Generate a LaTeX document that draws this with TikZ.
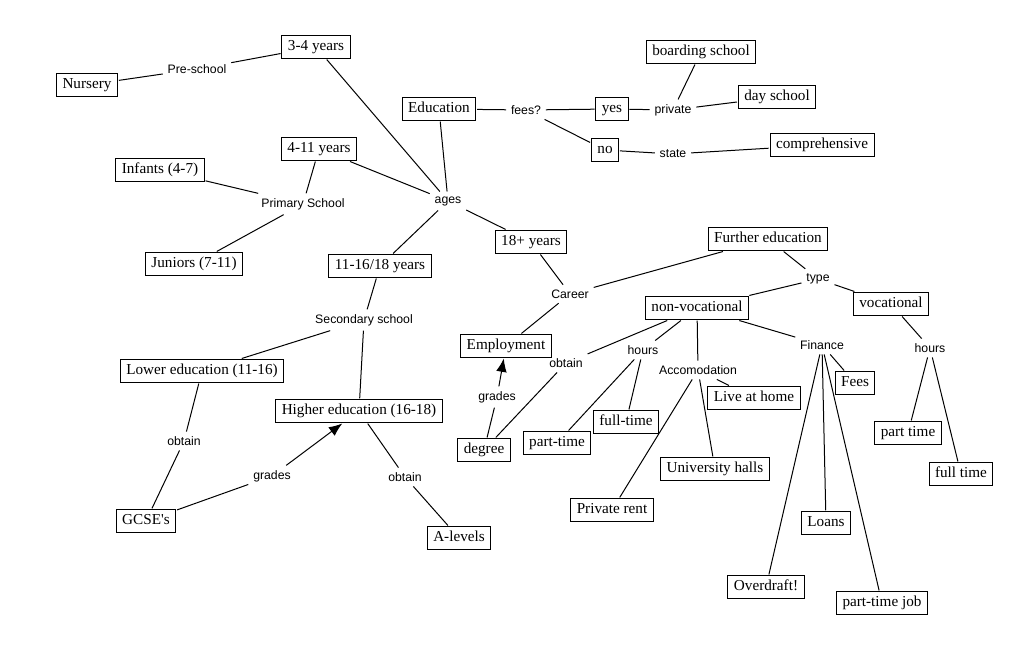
\documentclass[tikz,border=0pt]{standalone}
\usepackage{fontspec}
\setmainfont{Liberation Serif}
\newfontfamily\labfont{Liberation Sans}
\usetikzlibrary{arrows.meta}
\begin{document}
\begin{tikzpicture}[x=0.75pt,y=-0.75pt,
  box/.style={draw,line width=0.75pt,font=\fontsize{11.4}{13}\selectfont,inner xsep=4.5pt,inner ysep=3.2pt,text height=8pt,text depth=2.4pt,outer sep=1pt},
  lab/.style={font=\labfont\fontsize{9.2}{11}\selectfont,inner sep=3.5pt},
  ln/.style={line width=0.75pt},
  arr/.style={line width=0.75pt,-{Latex[length=10pt,width=8pt]}}]
\useasboundingbox[fill=white] (0,0) rectangle (1034,656);
% boxes
\node[box] (y34) at (316,47) {3-4 years};
\node[box] (nurs) at (87,85) {Nursery};
\node[box] (edu) at (439,109) {Education};
\node[box] (yes) at (612,109) {yes};
\node[box] (board) at (701,52) {boarding school};
\node[box] (day) at (777,97) {day school};
\node[box] (no) at (605,150) {no};
\node[box] (comp) at (822,145) {comprehensive};
\node[box] (y411) at (319,149) {4-11 years};
\node[box] (inf) at (160,170) {Infants (4-7)};
\node[box] (jun) at (194,264) {Juniors (7-11)};
\node[box] (y1116) at (380,266) {11-16/18 years};
\node[box] (y18) at (531,242) {18+ years};
\node[box] (fed) at (768,239) {Further education};
\node[box] (nonv) at (697,308) {non-vocational};
\node[box] (voc) at (891,304) {vocational};
\node[box] (emp) at (506,346) {Employment};
\node[box] (fees) at (855,383) {Fees};
\node[box] (home) at (754,398) {Live at home};
\node[box] (lower) at (202,371) {Lower education (11-16)};
\node[box] (higher) at (359,411) {Higher education (16-18)};
\node[box] (fullt) at (626,422) {full-time};
\node[box] (partt) at (557,443) {part-time};
\node[box] (degree) at (484,450) {degree};
\node[box] (ptime) at (908,433) {part time};
\node[box] (halls) at (715,469) {University halls};
\node[box] (ftime) at (961,474) {full time};
\node[box] (rent) at (612,510) {Private rent};
\node[box] (gcse) at (146,521) {GCSE\textquotesingle s};
\node[box] (loans) at (826,523) {Loans};
\node[box] (alev) at (459,538) {A-levels};
\node[box] (over) at (766,587) {Overdraft!};
\node[box] (job) at (882,603) {part-time job};
% labels
\node[lab] (pre) at (197,69) {Pre-school};
\node[lab] (feesq) at (526,110) {fees?};
\node[lab] (priv) at (673,110) {private};
\node[lab] (state) at (673,154) {state};
\node[lab] (prim) at (303,204) {Primary School};
\node[lab] (ages) at (448,201) {ages};
\node[lab] (career) at (570,294) {Career};
\node[lab] (type) at (818,279) {type};
\node[lab] (sec) at (364,320) {Secondary school};
\node[lab] (obt1) at (566,363) {obtain};
\node[lab] (hrs1) at (643,350) {hours};
\node[lab] (acc) at (698,370) {Accomodation};
\node[lab] (fin) at (822,345) {Finance};
\node[lab] (hrs2) at (930,348) {hours};
\node[lab] (gr1) at (497,397) {grades};
\node[lab] (obt2) at (184,441) {obtain};
\node[lab] (gr2) at (272,476) {grades};
\node[lab] (obt3) at (405,477) {obtain};
% connectors
\draw[ln] (nurs) -- (pre) -- (y34);
\draw[ln] (y34) -- (ages);
\draw[ln] (edu) -- (ages);
\draw[ln] (edu) -- (feesq);
\draw[ln] (feesq) -- (yes);
\draw[ln] (feesq) -- (no);
\draw[ln] (yes) -- (priv);
\draw[ln] (priv) -- (board);
\draw[ln] (priv) -- (day);
\draw[ln] (no) -- (state) -- (comp);
\draw[ln] (y411) -- (ages);
\draw[ln] (y411) -- (prim);
\draw[ln] (prim) -- (inf);
\draw[ln] (prim) -- (jun);
\draw[ln] (ages) -- (y1116);
\draw[ln] (ages) -- (y18);
\draw[ln] (y18) -- (career);
\draw[ln] (career) -- (fed);
\draw[ln] (career) -- (emp);
\draw[ln] (fed) -- (type);
\draw[ln] (type) -- (nonv);
\draw[ln] (type) -- (voc);
\draw[ln] (y1116) -- (sec);
\draw[ln] (sec) -- (lower);
\draw[ln] (sec) -- (higher);
\draw[ln] (lower) -- (obt2) -- (gcse);
\draw[ln] (gcse) -- (gr2);
\draw[arr] (gr2) -- (higher);
\draw[ln] (higher) -- (obt3) -- (alev);
\draw[ln] (degree) -- (gr1);
\draw[arr] (gr1) -- (emp);
\draw[ln] (nonv) -- (obt1) -- (degree);
\draw[ln] (nonv) -- (hrs1);
\draw[ln] (hrs1) -- (partt);
\draw[ln] (hrs1) -- (fullt);
\draw[ln] (nonv) -- (acc);
\draw[ln] (acc) -- (rent);
\draw[ln] (acc) -- (halls);
\draw[ln] (acc) -- (home);
\draw[ln] (nonv) -- (fin);
\draw[ln] (fin) -- (fees);
\draw[ln] (fin) -- (over);
\draw[ln] (fin) -- (loans);
\draw[ln] (fin) -- (job);
\draw[ln] (voc) -- (hrs2);
\draw[ln] (hrs2) -- (ptime);
\draw[ln] (hrs2) -- (ftime);
\end{tikzpicture}
\end{document}
